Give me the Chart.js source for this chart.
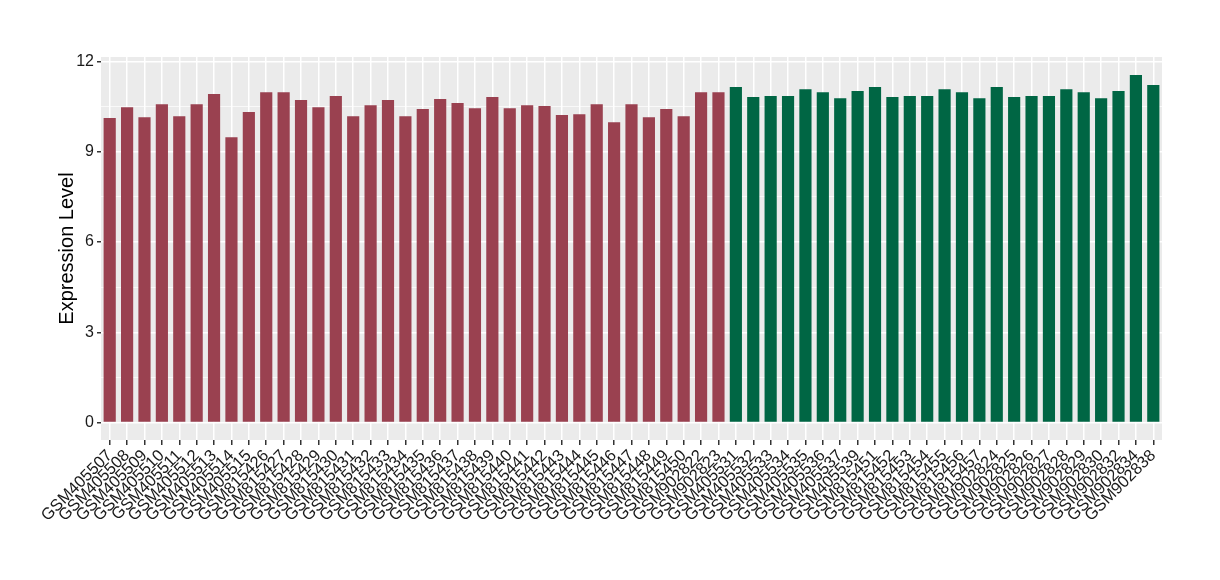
<!DOCTYPE html>
<html>
<head>
<meta charset="utf-8">
<script src="https://cdn.jsdelivr.net/npm/chart.js@4/dist/chart.umd.min.js"></script>
<style>
  html, body { margin: 0; padding: 0; background: #fff; }
  #wrap { width: 1220px; height: 580px; }
</style>
</head>
<body>
<div id="wrap"><canvas id="exprChart"></canvas></div>
<script>
const samples = [
    'GSM405507', 'GSM405508', 'GSM405509', 'GSM405510', 'GSM405511', 'GSM405512', 'GSM405513', 'GSM405514', 'GSM405515',
    'GSM815426', 'GSM815427', 'GSM815428', 'GSM815429', 'GSM815430', 'GSM815431', 'GSM815432', 'GSM815433', 'GSM815434',
    'GSM815435', 'GSM815436', 'GSM815437', 'GSM815438', 'GSM815439', 'GSM815440', 'GSM815441', 'GSM815442', 'GSM815443',
    'GSM815444', 'GSM815445', 'GSM815446', 'GSM815447', 'GSM815448', 'GSM815449', 'GSM815450', 'GSM902822', 'GSM902823',
    'GSM405531', 'GSM405532', 'GSM405533', 'GSM405534', 'GSM405535', 'GSM405536', 'GSM405537', 'GSM405539',
    'GSM815451', 'GSM815452', 'GSM815453', 'GSM815454', 'GSM815455', 'GSM815456', 'GSM815457',
    'GSM902824', 'GSM902825', 'GSM902826', 'GSM902827', 'GSM902828', 'GSM902829', 'GSM902830', 'GSM902832', 'GSM902834', 'GSM902838'
];

const expression = [
    10.12, 10.48, 10.15, 10.58, 10.18, 10.58, 10.92, 9.48, 10.32,
    10.98, 10.98, 10.72, 10.48, 10.85, 10.18, 10.55, 10.72, 10.18,
    10.42, 10.75, 10.62, 10.45, 10.82, 10.45, 10.55, 10.52, 10.22,
    10.25, 10.58, 9.98, 10.58, 10.15, 10.42, 10.18, 10.98, 10.98,
    11.15, 10.82, 10.85, 10.85, 11.08, 10.98, 10.78, 11.02,
    11.15, 10.82, 10.85, 10.85, 11.08, 10.98, 10.78,
    11.15, 10.82, 10.85, 10.85, 11.08, 10.98, 10.78, 11.02, 11.55, 11.22
];

// 36 samples in the first group, 25 in the second
const groups = samples.map((s, i) => i < 36 ? 'A' : 'B');
const groupColors = { A: '#9a4150', B: '#006644' };

const yMajorTicks = [0, 3, 6, 9, 12];
const yMinorTicks = [1.5, 4.5, 7.5, 10.5];

const panelBackground = {
    id: 'panelBackground',
    beforeDraw(chart) {
        const { ctx, chartArea } = chart;
        ctx.save();
        ctx.fillStyle = '#ebebeb';
        ctx.fillRect(chartArea.left, chartArea.top, chartArea.right - chartArea.left, chartArea.bottom - chartArea.top);
        ctx.restore();
    }
};

const ctx = document.getElementById('exprChart').getContext('2d');
new Chart(ctx, {
    type: 'bar',
    data: {
        labels: samples,
        datasets: [{
            label: 'Expression Level',
            data: expression,
            backgroundColor: groups.map(g => groupColors[g]),
            borderWidth: 0,
            barPercentage: 0.7,
            categoryPercentage: 1.0
        }]
    },
    options: {
        responsive: true,
        maintainAspectRatio: false,
        animation: false,
        layout: {
            padding: { top: 57, right: 58, left: 55, bottom: 0 }
        },
        plugins: {
            legend: { display: false },
            tooltip: { enabled: false }
        },
        scales: {
            x: {
                afterFit: scale => { scale.height = 140; },
                border: { display: false },
                grid: {
                    offset: false,
                    color: '#ffffff',
                    lineWidth: 1.5,
                    tickColor: '#333333',
                    tickLength: 5
                },
                ticks: {
                    autoSkip: false,
                    minRotation: 45,
                    maxRotation: 45,
                    padding: 1,
                    color: '#1a1a1a',
                    font: { family: '"Liberation Sans", Arial, sans-serif', size: 16.5 }
                }
            },
            y: {
                min: -0.58,
                max: 12.15,
                afterFit: scale => { scale.width = 46; },
                afterBuildTicks: scale => {
                    scale.ticks = yMajorTicks.concat(yMinorTicks).sort((a, b) => a - b).map(v => ({ value: v }));
                },
                border: { display: false },
                grid: {
                    color: '#ffffff',
                    lineWidth: c => yMajorTicks.includes(c.tick.value) ? 1.5 : 0.7,
                    tickColor: c => yMajorTicks.includes(c.tick.value) ? '#333333' : 'rgba(0,0,0,0)',
                    tickLength: 4
                },
                ticks: {
                    padding: 3,
                    color: '#1a1a1a',
                    font: { family: '"Liberation Sans", Arial, sans-serif', size: 16 },
                    callback: v => yMajorTicks.includes(v) ? String(v) : ''
                },
                title: {
                    display: true,
                    text: 'Expression Level',
                    color: '#000000',
                    padding: { top: 0, bottom: 4 },
                    font: { family: '"Liberation Sans", Arial, sans-serif', size: 20 }
                }
            }
        }
    },
    plugins: [panelBackground]
});
</script>
</body>
</html>
